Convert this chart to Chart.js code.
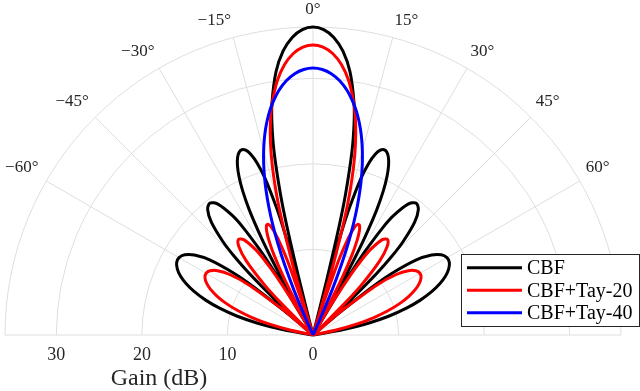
<!DOCTYPE html>
<html>
<head>
<meta charset="utf-8">
<title>Beam pattern</title>
<script src="https://cdn.jsdelivr.net/npm/chart.js@4.4.1/dist/chart.umd.min.js"></script>
<style>
  html, body { margin: 0; padding: 0; background: #fff; }
  #wrap { width: 640px; height: 391px; position: relative; }
</style>
</head>
<body>
<div id="wrap"><canvas id="beamChart"></canvas></div>
<script>
// ── Data (angle in degrees, gain in dB) ─────────────────────────────────
const cbfAngles = [
  -81.9, -80, -78, -76, -74, -72, -70, -68, -66, -64, -62, -60, -58, -56, -54, -52, -51, -50, -49.7, -49.4,
  -47.8, -47.5, -47, -46, -45, -44, -42, -40, -38, -36, -34, -33, -32, -31.5, -31, -30.45,
  -29.55, -29, -28.5, -28, -27, -26, -25, -24, -23, -22, -21, -20, -19, -18, -17, -16, -15.5, -15, -14.7,
  -14.25, -14, -13.5, -13, -12, -11, -10, -8, -6, -4, -2,
  0,
  2, 4, 6, 8, 10, 11, 12, 13, 13.5, 14, 14.25,
  14.7, 15, 15.5, 16, 17, 18, 19, 20, 21, 22, 23, 24, 25, 26, 27, 28, 28.5, 29, 29.55,
  30.45, 31, 31.5, 32, 33, 34, 36, 38, 40, 42, 44, 45, 46, 47, 47.5, 47.8,
  49.4, 49.7, 50, 51, 52, 54, 56, 58, 60, 62, 64, 66, 68, 70, 72, 74, 76, 78, 80, 81.9
];
const cbfGain = [
  0, 3.5, 6.61, 9.18, 11.36, 13.19, 14.72, 15.98, 16.96, 17.65, 18.05, 18.08, 17.68, 16.72, 14.93, 11.68, 8.97, 4.57, 2.56, 0,
  0, 2.74, 6.06, 10.31, 13.1, 15.11, 17.76, 19.16, 19.57, 18.91, 16.82, 14.9, 11.86, 9.56, 6.23, 0,
  0, 6.72, 10.31, 12.85, 16.38, 18.77, 20.48, 21.72, 22.56, 23.05, 23.2, 22.99, 22.35, 21.15, 19.12, 15.49, 12.38, 6.87, 0,
  0, 6.67, 13.15, 16.97, 21.87, 25.15, 27.59, 31.07, 33.38, 34.87, 35.72,
  36,
  35.72, 34.87, 33.38, 31.07, 27.59, 25.15, 21.87, 16.97, 13.15, 6.67, 0,
  0, 6.87, 12.38, 15.49, 19.12, 21.15, 22.35, 22.99, 23.2, 23.05, 22.56, 21.72, 20.48, 18.77, 16.38, 12.85, 10.31, 6.72, 0,
  0, 6.23, 9.56, 11.86, 14.9, 16.82, 18.91, 19.57, 19.16, 17.76, 15.11, 13.1, 10.31, 6.06, 2.74, 0,
  0, 2.56, 4.57, 8.97, 11.68, 14.93, 16.72, 17.68, 18.08, 18.05, 17.65, 16.96, 15.98, 14.72, 13.19, 11.36, 9.18, 6.61, 3.5, 0
];

const tay20Angles = [
  -79.7, -78, -76, -74, -72, -70, -68, -66, -64, -62, -60, -58, -56, -54, -52, -50, -49.5, -48.9,
  -46.2, -46, -45, -44, -42, -40, -38, -36, -34, -33, -32, -31, -30.3,
  -28.4, -28, -27, -26, -25, -24, -23, -22, -21, -20, -19, -18, -17.7,
  -16.8, -16.5, -16, -15, -14, -13, -12, -11, -10, -8, -6, -4, -2,
  0,
  2, 4, 6, 8, 10, 11, 12, 13, 14, 15, 16, 16.5, 16.8,
  17.7, 18, 19, 20, 21, 22, 23, 24, 25, 26, 27, 28, 28.4,
  30.3, 31, 32, 33, 34, 36, 38, 40, 42, 44, 45, 46, 46.2,
  48.9, 49.5, 50, 52, 54, 56, 58, 60, 62, 64, 66, 68, 70, 72, 74, 76, 78, 79.7
];
const tay20Gain = [
  0, 2.65, 5.23, 7.41, 9.26, 10.81, 12.08, 13.1, 13.84, 14.3, 14.43, 14.17, 13.44, 12.03, 9.56, 4.99, 3.15, 0,
  0, 1.02, 5.44, 8.23, 11.66, 13.47, 14.16, 13.78, 12.1, 10.55, 8.22, 4.47, 0,
  0, 2.83, 7.55, 10.35, 12.17, 13.32, 13.91, 13.96, 13.4, 12.03, 9.27, 2.87, 0,
  0, 4.48, 9.19, 15.03, 18.87, 21.74, 24.02, 25.92, 27.51, 30.0, 31.78, 32.98, 33.67,
  33.9,
  33.67, 32.98, 31.78, 30.0, 27.51, 25.92, 24.02, 21.74, 18.87, 15.03, 9.19, 4.48, 0,
  0, 2.87, 9.27, 12.03, 13.4, 13.96, 13.91, 13.32, 12.17, 10.35, 7.55, 2.83, 0,
  0, 4.47, 8.22, 10.55, 12.1, 13.78, 14.16, 13.47, 11.66, 8.23, 5.44, 1.02, 0,
  0, 3.15, 4.99, 9.56, 12.03, 13.44, 14.17, 14.43, 14.3, 13.84, 13.1, 12.08, 10.81, 9.26, 7.41, 5.23, 2.65, 0
];

const tay40Angles = [
  -24.4, -24, -23, -22, -21, -20, -19, -18, -17, -16, -15, -14, -13, -12, -11, -10, -8, -6, -4, -2,
  0,
  2, 4, 6, 8, 10, 11, 12, 13, 14, 15, 16, 17, 18, 19, 20, 21, 22, 23, 24, 24.4
];
const tay40Gain = [
  0, 1.89, 5.7, 8.82, 11.49, 13.83, 15.89, 17.75, 19.42, 20.92, 22.29, 23.54, 24.67, 25.69, 26.61, 27.43, 28.82, 29.87, 30.61, 31.05,
  31.2,
  31.05, 30.61, 29.87, 28.82, 27.43, 26.61, 25.69, 24.67, 23.54, 22.29, 20.92, 19.42, 17.75, 15.89, 13.83, 11.49, 8.82, 5.7, 1.89, 0
];

const seriesLabels = ['CBF', 'CBF+Tay-20', 'CBF+Tay-40'];
const seriesColors = ['#000000', '#ff0000', '#0000ff'];

// polar grid
const ringValues = [10, 20, 30, 36];
const spokeAngles = [-60, -45, -30, -15, 0, 15, 30, 45, 60];
const radialTicks = [30, 20, 10, 0];
const rMax = 36;

const SERIF = "'Liberation Serif', 'Times New Roman', serif";
const GRID_COLOR = '#dedede';
const TEXT_COLOR = '#262626';

// ── helpers ─────────────────────────────────────────────────────────────
function toXY(angles, gains) {
  return angles.map((a, i) => {
    const t = (a * Math.PI) / 180;
    return { x: gains[i] * Math.sin(t), y: gains[i] * Math.cos(t) };
  });
}

function angleText(a) {
  return (a < 0 ? '\u2212' + Math.abs(a) : String(a)) + '\u00b0';
}

// ── Polar grid + labels + legend plugin ─────────────────────────────────
const polarDecor = {
  id: 'polarDecor',
  beforeDatasetsDraw(chart) {
    const { ctx } = chart;
    const xs = chart.scales.x, ys = chart.scales.y;
    const cx = xs.getPixelForValue(0), cy = ys.getPixelForValue(0);
    const unit = xs.getPixelForValue(1) - cx;

    ctx.save();
    ctx.strokeStyle = GRID_COLOR;
    ctx.lineWidth = 1;

    ringValues.forEach((r) => {
      ctx.beginPath();
      ctx.arc(cx, cy, r * unit, Math.PI, 2 * Math.PI);
      ctx.stroke();
    });

    spokeAngles.forEach((a) => {
      const t = (a * Math.PI) / 180;
      ctx.beginPath();
      ctx.moveTo(cx, cy);
      ctx.lineTo(cx + rMax * unit * Math.sin(t), cy - rMax * unit * Math.cos(t));
      ctx.stroke();
    });

    ctx.beginPath();
    ctx.moveTo(cx - rMax * unit, cy);
    ctx.lineTo(cx + rMax * unit, cy);
    ctx.stroke();

    // angle labels: left side right-aligned, right side left-aligned
    ctx.fillStyle = TEXT_COLOR;
    ctx.font = '17px ' + SERIF;
    ctx.textBaseline = 'alphabetic';
    spokeAngles.forEach((a) => {
      const t = (a * Math.PI) / 180;
      const rLab = a < 0 ? 317 : 315;
      const lx = cx + rLab * Math.sin(t);
      const ly = cy - 315 * Math.cos(t) - 6;
      ctx.textAlign = a === 0 ? 'center' : a < 0 ? 'right' : 'left';
      ctx.fillText(angleText(a), lx, ly);
    });

    // radial tick labels
    ctx.textAlign = 'center';
    ctx.font = '18px ' + SERIF;
    radialTicks.forEach((v) => {
      ctx.fillText(String(v), xs.getPixelForValue(-v), 359.5);
    });

    // radial axis title, centred under the left half
    ctx.font = '24px ' + SERIF;
    ctx.fillText('Gain (dB)', xs.getPixelForValue(-rMax / 2), 385);
    ctx.restore();
  },
  afterDraw(chart) {
    const { ctx } = chart;
    const bx = 461.5, by = 254.5, bw = 178, bh = 72;
    ctx.save();
    ctx.fillStyle = '#ffffff';
    ctx.fillRect(bx, by, bw, bh);
    ctx.strokeStyle = TEXT_COLOR;
    ctx.lineWidth = 1;
    ctx.strokeRect(bx, by, bw, bh);

    ctx.font = '20px ' + SERIF;
    ctx.textAlign = 'left';
    ctx.textBaseline = 'alphabetic';
    seriesLabels.forEach((label, i) => {
      const rowY = 267.7 + i * 22.5;
      ctx.strokeStyle = seriesColors[i];
      ctx.lineWidth = 3;
      ctx.beginPath();
      ctx.moveTo(467, rowY);
      ctx.lineTo(522, rowY);
      ctx.stroke();
      ctx.fillStyle = '#000000';
      ctx.fillText(label, 527, rowY + 6.7);
    });
    ctx.restore();
  },
};

// ── Chart setup ─────────────────────────────────────────────────────────
const allAngles = [cbfAngles, tay20Angles, tay40Angles];
const allGains = [cbfGain, tay20Gain, tay40Gain];

const chart = new Chart(document.getElementById('beamChart').getContext('2d'), {
  type: 'scatter',
  data: {
    datasets: seriesLabels.map((label, i) => ({
      label: label,
      data: toXY(allAngles[i], allGains[i]),
      showLine: true,
      borderColor: seriesColors[i],
      backgroundColor: seriesColors[i],
      borderWidth: 3,
      pointRadius: 0,
      tension: 0.3,
      fill: false,
      clip: false,
      order: 3 - i,
    })),
  },
  options: {
    responsive: true,
    maintainAspectRatio: false,
    animation: false,
    events: [],
    layout: { padding: { left: 5, right: 19, top: 27, bottom: 56 } },
    scales: {
      x: { type: 'linear', min: -rMax, max: rMax, display: false },
      y: { type: 'linear', min: 0, max: rMax, display: false },
    },
    plugins: {
      legend: { display: false },
      tooltip: { enabled: false },
    },
  },
  plugins: [polarDecor],
});
</script>
</body>
</html>
